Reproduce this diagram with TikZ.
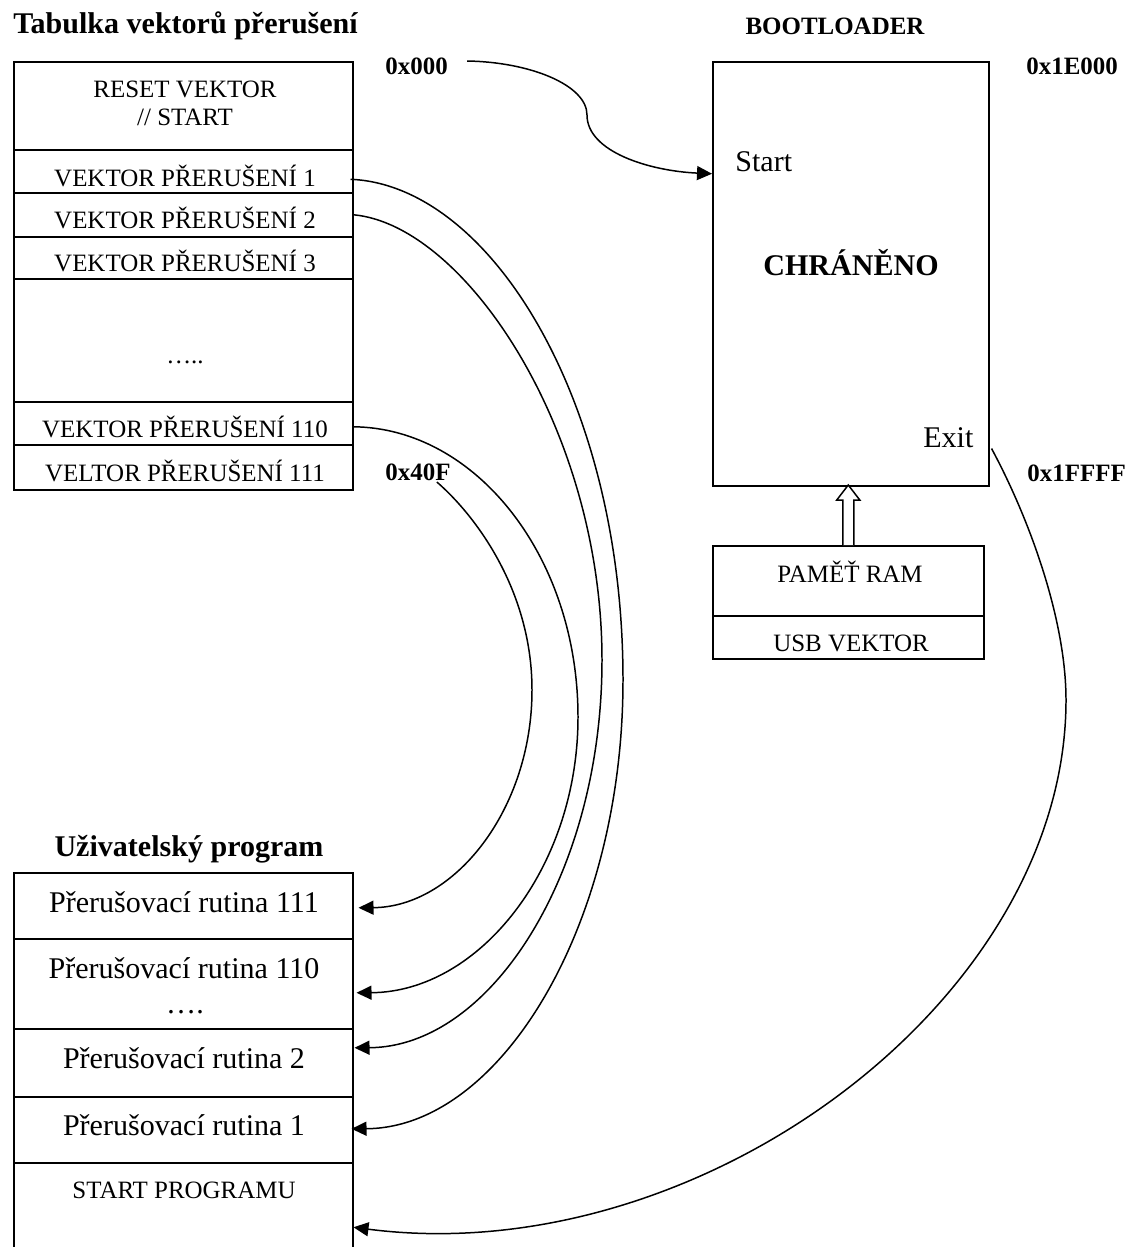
\documentclass[tikz,border=0pt]{standalone}
\usepackage{fontspec}
\setmainfont{Liberation Serif}
\usetikzlibrary{arrows.meta,calc}

\newcommand{\fsSmall}{\fontsize{14.2pt}{17pt}\selectfont}
\newcommand{\fsLarge}{\fontsize{17.1pt}{20pt}\selectfont}

\begin{document}
\begin{tikzpicture}[x=0.02cm,y=-0.02cm,
  cell/.style={draw,line width=0.9pt,inner sep=0,anchor=north west,minimum width=6.78cm},
  txt/.style={anchor=base,inner sep=0,font=\fsSmall},
  txtL/.style={anchor=base,inner sep=0,font=\fsLarge},
  addr/.style={anchor=base west,inner sep=0,font=\fsSmall\bfseries},
  head/.style={inner sep=0,font=\fsLarge\bfseries},
  link/.style={line width=0.85pt,-{Triangle[length=0.3cm,width=0.28cm]}}]
\clip (0,0) rectangle (1129,1247);
\fill[white] (0,0) rectangle (1129,1247);

% ---- interrupt vector table ----
\node[head,anchor=base west] (ttlvec) at (13,34) {Tabulka vektorů přerušení};
\node[cell,minimum height=1.76cm] (reset) at (13,61) {};
\node[cell,minimum height=0.86cm] (v1) at (13,149) {};
\node[cell,minimum height=0.88cm] (v2) at (13,192) {};
\node[cell,minimum height=0.84cm] (v3) at (13,236) {};
\node[cell,minimum height=2.46cm] (vdots) at (13,278) {};
\node[cell,minimum height=0.86cm] (v110) at (13,401) {};
\node[cell,minimum height=0.90cm] (v111) at (13,444) {};

\node[txt] (treset) at (185,97) {RESET VEKTOR};
\node[txt] (tstart) at (185,126) {// START};
\node[txt] (tv1) at (185,186) {VEKTOR PŘERUŠENÍ 1};
\node[txt] (tv2) at (185,228) {VEKTOR PŘERUŠENÍ 2};
\node[txt] (tv3) at (185,271) {VEKTOR PŘERUŠENÍ 3};
\node[txt] (tvdots) at (185,363) {…..};
\node[txt] (tv110) at (185,437) {VEKTOR PŘERUŠENÍ 110};
\node[txt] (tv111) at (185,481) {VELTOR PŘERUŠENÍ 111};

\node[addr] (a000) at (385,75) {0x000};
\node[addr] (a40f) at (385,480) {0x40F};

% ---- bootloader ----
\node[head,anchor=base] (ttlboot) at (835,35) {\fsSmall BOOTLOADER};
\node[draw,line width=0.9pt,inner sep=0,anchor=north west,
      minimum width=5.52cm,minimum height=8.48cm] (boot) at (712,61) {};
\node[addr] (a1e000) at (1026,75) {0x1E000};
\node[addr] (a1ffff) at (1027,481) {0x1FFFF};
\node[txtL,anchor=base west] (tbstart) at (735,172) {Start};
\node[head,anchor=base] (tprot) at (851,275) {CHRÁNĚNO};
\node[txtL,anchor=base west] (texit) at (923,447) {Exit};

% ---- RAM block ----
\node[draw,line width=0.9pt,inner sep=0,anchor=north west,
      minimum width=5.42cm,minimum height=1.4cm] (ram) at (712,545) {};
\node[draw,line width=0.9pt,inner sep=0,anchor=north west,
      minimum width=5.42cm,minimum height=0.86cm] (usb) at (712,615) {};
\node[txt] (tram) at (850,582) {PAMĚŤ RAM};
\node[txt] (tusb) at (851,651) {USB VEKTOR};

% hollow arrow RAM -> bootloader
\draw[line width=0.85pt,fill=white]
  ($(ram.north)+(-5.5,0)$) -- ++(0,-45) -- ++(-6,0)
  -- ($(ram.north)+(0,-60)$) -- ++(11.5,15) -- ++(-6,0)
  -- ($(ram.north)+(5.5,0)$);

% ---- user program ----
\node[head,anchor=base] (ttlprog) at (189,856) {Uživatelský program};
\node[cell,minimum height=1.32cm] (p111) at (13,872) {};
\node[cell,minimum height=1.80cm] (p110) at (13,938) {};
\node[cell,minimum height=1.36cm] (p2) at (13,1028) {};
\node[cell,minimum height=1.32cm] (p1) at (13,1096) {};
\node[cell,minimum height=2.3cm] (sp) at (13,1162) {};

\node[txtL] (tp111) at (184,912) {Přerušovací rutina 111};
\node[txtL] (tp110) at (184,978) {Přerušovací rutina 110};
\node[txtL] (tpdots) at (185,1013) {….};
\node[txtL] (tp2) at (184,1068) {Přerušovací rutina 2};
\node[txtL] (tp1) at (184,1135) {Přerušovací rutina 1};
\node[txt] (tsp) at (184,1198) {START PROGRAMU};

% ---- connectors ----
% reset vector -> bootloader start
\draw[link] ($(a000.base east)+(19,-14)$)
  .. controls (530,62) and (587,85) .. (587,115)
  .. controls (587,152) and (650,171) .. ($(boot.west)+(0,-100)$);

% vector 1 -> routine 1
\draw[link] ($(v1.east)+(-3,8)$)
  .. controls (490,185) and (623,400) .. (623,680)
  .. controls (623,926) and (500,1128) .. ($(p1.east)+(-2,-1)$);

% vector 2 -> routine 2
\draw[link] ($(v2.east)+(0,0)$)
  .. controls (465,225) and (602,430) .. (602,660)
  .. controls (602,873) and (491,1047) .. ($(p2.east)+(1,-15)$);

% vector 110 -> routine 110
\draw[link] ($(v110.east)+(0,3.5)$)
  .. controls (476,428) and (578,557) .. (578,717)
  .. controls (578,868) and (479,992) .. ($(p110.east)+(3,9)$);

% vector 111 -> routine 111
\draw[link] ($(a40f.base east)+(-14,2)$)
  .. controls (475,515) and (532,590) .. (532,690)
  .. controls (532,809) and (455,907) .. ($(p111.east)+(5,2)$);

% bootloader exit -> program start
\draw[link] ($(boot.south east)+(2,-38)$)
  .. controls (1030,520) and (1066,620) .. (1066,700)
  .. controls (1066,1000) and (700,1272) .. ($(sp.east)+(0,7)$);

\end{tikzpicture}
\end{document}
